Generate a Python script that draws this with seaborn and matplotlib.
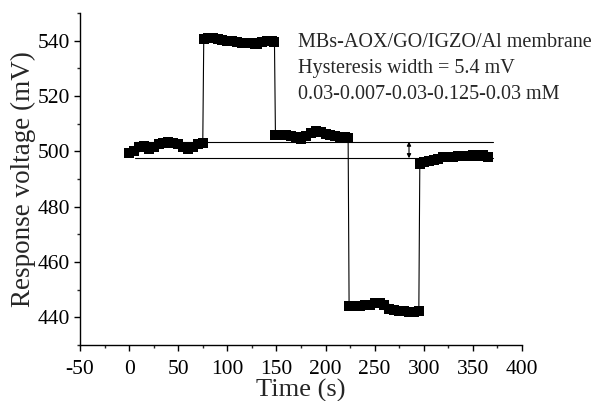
import seaborn as sns
import matplotlib.pyplot as plt
import pandas as pd
from matplotlib.ticker import MultipleLocator

# time (s) and response voltage (mV)
time_s = [0, 5, 10, 15, 20, 25, 30, 35, 40, 45, 50, 55, 60, 65, 70, 75,
          76, 80, 85, 90, 95, 100, 105, 110, 115, 120, 125, 128, 130, 135, 140, 145, 148,
          149, 155, 160, 165, 170, 175, 180, 185, 190, 195, 200, 205, 210, 215, 220, 223,
          224, 230, 235, 240, 245, 250, 255, 260, 265, 270, 275, 280, 285, 290, 295,
          296, 300, 305, 310, 315, 320, 325, 330, 335, 340, 345, 350, 355, 360, 365]
voltage_mv = [499.5, 500, 501.5, 502, 501, 501.5, 502.5, 503, 503.5, 503, 502.5, 501.5, 501, 501.5, 502.5, 503,
              540.5, 540.8, 540.8, 540.6, 540.3, 540, 539.7, 539.5, 539.3, 539.2, 539, 538.6, 538.8, 539.5, 539.8, 540, 539.5,
              505.8, 506, 505.8, 505.5, 505, 504.5, 505.5, 506.5, 507.2, 507, 506.3, 506, 505.7, 505.3, 505, 504.8,
              444, 444, 444.2, 444.3, 444.6, 445, 445, 444.3, 443, 442.5, 442.3, 442.2, 442, 441.8, 442.3,
              495.5, 496, 496.5, 497, 497.3, 497.8, 498, 497.8, 498.2, 498.3, 498.2, 498.5, 498.3, 498.8, 498]
# concentration step each point belongs to
step = [0] * 16 + [1] * 17 + [2] * 16 + [3] * 15 + [4] * 15

# hysteresis reference levels (mV) and their time span (s)
ref_levels = [503.5, 497.5]
ref_span = [6, 371]
arrow_time = 285

info_lines = ["MBs-AOX/GO/IGZO/Al membrane",
              "Hysteresis width = 5.4 mV",
              "0.03-0.007-0.03-0.125-0.03 mM"]

df = pd.DataFrame({"Time": time_s, "Voltage": voltage_mv, "Step": step})

sns.set_style("ticks")
plt.rcParams["font.family"] = ["Liberation Serif", "DejaVu Serif"]
plt.rcParams["axes.unicode_minus"] = False

fig = plt.figure(figsize=(5.94, 4.01), dpi=100)
ax = fig.add_axes([0.1347, 0.1397, 0.744, 0.828])

# thin connecting trace
sns.lineplot(data=df, x="Time", y="Voltage", ax=ax, sort=False, estimator=None,
             color="black", linewidth=0.8)
# thick plateaus made of dense square markers
sns.scatterplot(data=df, x="Time", y="Voltage", ax=ax, marker="s", s=45,
                color="black", edgecolor="black", linewidth=0, zorder=3)
for _, seg in df.groupby("Step"):
    ax.plot(seg["Time"], seg["Voltage"], color="black", linewidth=6,
            solid_joinstyle="round", solid_capstyle="butt", zorder=3)

for lvl in ref_levels:
    ax.plot(ref_span, [lvl, lvl], color="black", linewidth=0.8)

ax.annotate("", xy=(arrow_time, ref_levels[1]), xytext=(arrow_time, ref_levels[0]),
            arrowprops=dict(arrowstyle="<|-|>", color="black", lw=0.8,
                            mutation_scale=6, shrinkA=0, shrinkB=0))

for i, line in enumerate(info_lines):
    ax.text(172, 539.3 - i * 9.4, line, fontsize=14.5, va="center", ha="left")

ax.set_xlim(-50, 400)
ax.set_ylim(430, 550)
ax.xaxis.set_major_locator(MultipleLocator(50))
ax.xaxis.set_minor_locator(MultipleLocator(25))
ax.yaxis.set_major_locator(MultipleLocator(20))
ax.yaxis.set_minor_locator(MultipleLocator(10))
ax.set_yticks([440, 460, 480, 500, 520, 540])
ax.yaxis.set_major_formatter(plt.FuncFormatter(lambda v, p: f"{v:.0f}"))
ax.tick_params(which="major", direction="out", length=4, width=1.0, labelsize=15.5,
               colors="black", pad=3)
ax.tick_params(axis="x", which="major", pad=7)
ax.tick_params(which="minor", direction="out", length=2.5, width=1.0)

for s in ["top", "right"]:
    ax.spines[s].set_visible(False)
for s in ["left", "bottom"]:
    ax.spines[s].set_linewidth(1.0)
    ax.spines[s].set_color("black")

ax.set_xlabel("Time (s)", fontsize=19, labelpad=0)
ax.set_ylabel("Response voltage (mV)", fontsize=19.5, labelpad=1)

fig.savefig("out.png", dpi=100)
